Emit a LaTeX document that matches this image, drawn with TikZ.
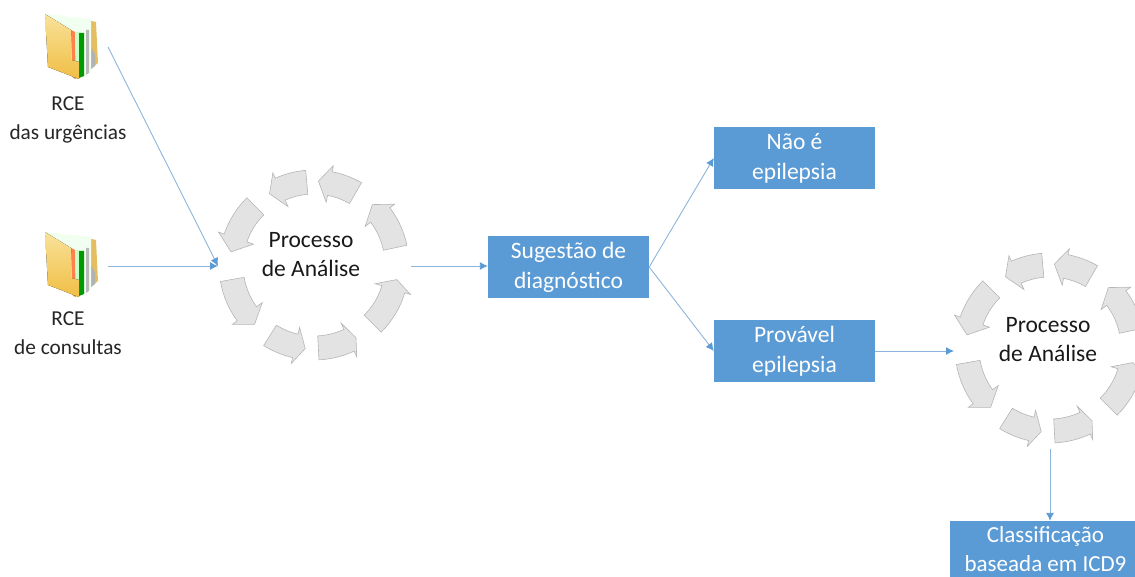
\documentclass[tikz,border=0pt]{standalone}
\usepackage{fontspec}
\setmainfont{Carlito}
\usetikzlibrary{arrows.meta,positioning}
\definecolor{boxblue}{HTML}{5B9BD5}
\definecolor{linkblue}{HTML}{8DB4DC}
\definecolor{ringgray}{HTML}{E3E3E3}
\definecolor{ringedge}{HTML}{B5B5B5}
\definecolor{flapyellow}{HTML}{F9E29A}
\definecolor{flapdark}{HTML}{F0BE45}
\definecolor{backtan}{HTML}{E6BE62}
\tikzset{
  box/.style={fill=boxblue,inner sep=0pt,minimum width=161pt,minimum height=62pt,align=center,text=white,font=\fontsize{23.5}{30}\selectfont},
  label/.style={align=center,text=black!85,font=\fontsize{21.3}{29}\selectfont},
  title/.style={align=center,text=black!90,font=\fontsize{23.5}{29}\selectfont},
  link/.style={draw=linkblue,line width=0.9pt,-{Latex[length=8pt,width=8pt,color=boxblue]}},
  ringpart/.style={fill=ringgray,draw=ringedge,line width=0.6pt},
  folder/.pic={
    \fill[backtan] (42,6) -- (51,8) -- (53,49) -- (36,63) -- (42,40) -- cycle;
    \fill[gray!60] (44,30) -- (50,40) -- (50,52) -- (36,63) -- (42,58) -- cycle;
    \fill[green!6!white] (0,0) -- (46,5) -- (46,58) -- (28,64) -- cycle;
    \fill[orange!60!red!70] (26,16) -- (30,18) -- (31,65) -- (28,64) -- cycle;
    \fill[green!22!white] (30,18) -- (34,18) -- (34,64) -- (31,65) -- cycle;
    \fill[green!60!black] (34,19) -- (39,19) -- (39,62) -- (34,64) -- cycle;
    \fill[gray!55] (41,16) -- (44,16) -- (44,59) -- (41,61) -- cycle;
    \fill[top color=flapyellow,bottom color=flapdark] (0,0) -- (26,16) -- (26,46) -- (34,48) -- (34,65) -- (3,53) -- cycle;
  }
}
% one arrow of the ring: tail angle, head base angle, tip angle
\newcommand{\ringarrow}[4]{
  \filldraw[ringpart,shift={(#1)}] (#2:95) arc[start angle=#2,end angle=#3,radius=95] -- (#3:101) -- (#4:84)
    -- (#3:64) -- (#3:71) arc[start angle=#3,end angle=#2,radius=71] -- cycle;
}
\newcommand{\ring}[1]{
  \ringarrow{#1}{60}{79}{87}
  \ringarrow{#1}{95}{114}{122}
  \ringarrow{#1}{135}{161}{171}
  \ringarrow{#1}{190}{216}{225}
  \ringarrow{#1}{238}{257}{264}
  \ringarrow{#1}{273}{295}{300}
  \ringarrow{#1}{315}{343}{350}
  \ringarrow{#1}{12}{37}{46}
}
\begin{document}
\begin{tikzpicture}[x=1pt,y=-1pt]
  \useasboundingbox (0,0) rectangle (1135,577);
  \clip (0,0) rectangle (1135,577);

  \coordinate (ringA) at (314,265);
  \coordinate (ringB) at (1050,348);
  \begin{scope}[y=1pt]
    \ring{ringA}
    \ring{ringB}
  \end{scope}

  \pic at (45,14) {folder};
  \pic at (45,232) {folder};

  \node[label] (urgencias) at (68,120) {RCE\\das urgências};
  \node[label] (consultas) at (68,333) {RCE\\de consultas};
  \node[title] (analiseA) at (311,255) {Processo\\de Análise};
  \node[title] (analiseB) at (1048,340) {Processo\\de Análise};

  \node[box] (sugestao) at (568.5,267) {Sugestão de\\diagnóstico};
  \node[box] (nao) at (794.5,158) {Não é\\epilepsia};
  \node[box] (provavel) at (794.5,351) {Provável\\epilepsia};
  \node[box,minimum width=191pt,minimum height=56pt,font=\fontsize{23}{29}\selectfont] (icd) at (1045.5,549) {Classificação\\baseada em ICD9};

  \coordinate (folderA) at (108,47);
  \coordinate (folderB) at (108,266);
  \coordinate (ringAin) at (218,266);
  \coordinate (ringAout) at (411,266);
  \coordinate (ringBin) at (954,351);
  \coordinate (ringBout) at (1050,449);

  \draw[link] (folderA) -- (ringAin);
  \draw[link] (folderB) -- (ringAin);
  \draw[link] (ringAout) -- (ringAout -| sugestao.west);
  \draw[link] (sugestao.east) -- (nao.west);
  \draw[link] (sugestao.east) -- (provavel.west);
  \draw[link] (provavel.east) -- (ringBin);
  \draw[link] (ringBout) -- (ringBout |- icd.north);
\end{tikzpicture}
\end{document}
